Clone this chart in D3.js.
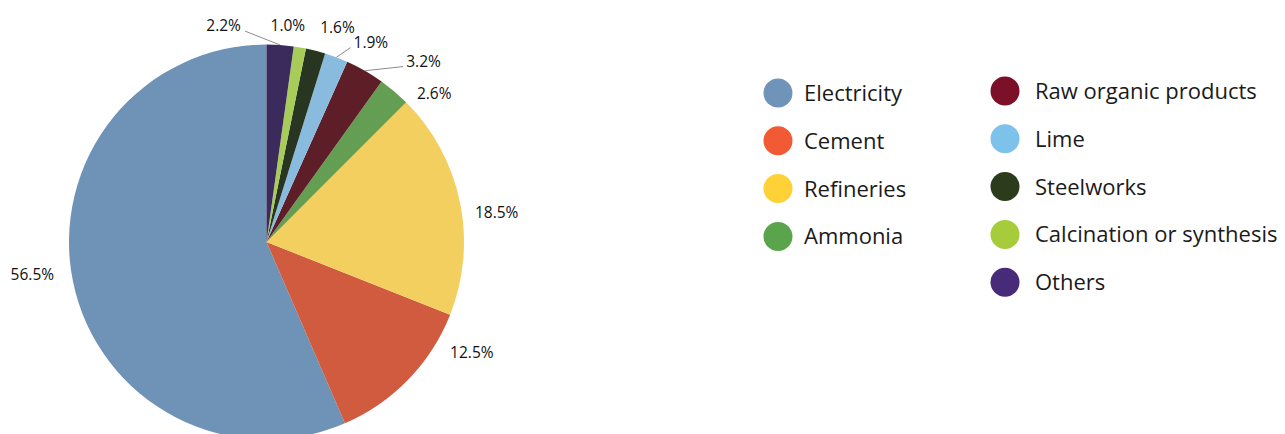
<!DOCTYPE html>
<html>
<head>
<meta charset="utf-8">
<script src="https://cdn.jsdelivr.net/npm/d3@7"></script>
<style>
  html, body { margin: 0; padding: 0; background: #fff; }
  svg { display: block; }
</style>
</head>
<body>
<svg id="chart" width="1285" height="434"></svg>
<script>
// Share of emissions by source (percent)
const categories = [
  "Electricity", "Cement", "Refineries", "Ammonia",
  "Raw organic products", "Lime", "Steelworks",
  "Calcination or synthesis", "Others"
];
const shares = [56.5, 12.5, 18.5, 2.6, 3.2, 1.9, 1.6, 1.0, 2.2];
const valueLabels = ["56.5%", "12.5%", "18.5%", "2.6%", "3.2%", "1.9%", "1.6%", "1.0%", "2.2%"];

// Slice fills and the brighter swatch tones used in the key
const sliceColors = ["#6f92b7", "#d05b3f", "#f3cf5f", "#649e52", "#5d1e28", "#88bbdd", "#283621", "#a8cc5a", "#3b2a5c"];
const keyColors   = ["#7094b9", "#f15a35", "#fed136", "#5aa54b", "#7b1028", "#7dc2ea", "#2b3b1c", "#a6cc3c", "#472a78"];

// Slices whose labels sit off to the side with a connector line
const connectorSeries = ["Others", "Lime", "Raw organic products"];

// Label placement tweaks relative to the outer label ring [dx, dy]
const labelNudge = [[-6, -15], [38, -52], [2, 18], [17, 29], [41, 21], [22, 18], [13, 11], [-18, 13], [-59, 16]];

const svg = d3.select("#chart");
const cx = 266.5, cy = 242, radius = 197.5, labelRadius = 233;

const color = d3.scaleOrdinal().domain(categories).range(sliceColors);
const keyColor = d3.scaleOrdinal().domain(categories).range(keyColors);

const rows = categories.map((c, i) => ({ name: c, value: shares[i], label: valueLabels[i], nudge: labelNudge[i] }));

// Slices run counter-clockwise from 12 o'clock
const pie = d3.pie().sort(null).value(d => d.value).startAngle(0).endAngle(-2 * Math.PI);
const arcs = pie(rows);

const arc = d3.arc().innerRadius(0).outerRadius(radius);
const ring = d3.arc().innerRadius(labelRadius).outerRadius(labelRadius);
const rim = d3.arc().innerRadius(radius).outerRadius(radius);

const g = svg.append("g").attr("transform", `translate(${cx},${cy})`);

g.selectAll("path.slice")
  .data(arcs)
  .join("path")
  .attr("class", "slice")
  .attr("d", arc)
  .attr("fill", d => color(d.data.name));

// Value labels
const labels = g.selectAll("text.value")
  .data(arcs)
  .join("text")
  .attr("class", "value")
  .attr("x", d => ring.centroid(d)[0] + d.data.nudge[0])
  .attr("y", d => ring.centroid(d)[1] + d.data.nudge[1])
  .attr("dy", "0.36em")
  .attr("text-anchor", "middle")
  .attr("font-family", "'Open Sans', sans-serif")
  .attr("font-size", 15.5)
  .attr("fill", "#111")
  .text(d => d.data.label);

// Connector lines from the rim to the nearest side of the label
labels.each(function(d) {
  if (!connectorSeries.includes(d.data.name)) return;
  const box = this.getBBox();
  const [ax, ay] = rim.centroid(d);
  const midY = box.y + box.height / 2;
  const toRight = ax > box.x + box.width;
  const ex = toRight ? box.x + box.width + 4 : box.x - 3;
  const ey = Math.min(ay, midY + 6);
  g.insert("line", "text")
    .attr("x1", ax).attr("y1", ay)
    .attr("x2", ex).attr("y2", ey)
    .attr("stroke", "#8c8c8c")
    .attr("stroke-width", 1);
});

// Key, two columns
const keyCols = [
  { items: categories.slice(0, 4), cx: 778, tx: 804, y0: 93, step: 47.8 },
  { items: categories.slice(4), cx: 1005, tx: 1035, y0: 91, step: 47.8 }
];
keyCols.forEach(col => {
  const kg = svg.append("g");
  const item = kg.selectAll("g")
    .data(col.items)
    .join("g")
    .attr("transform", (d, i) => `translate(0,${col.y0 + i * col.step})`);
  item.append("circle")
    .attr("cx", col.cx).attr("cy", 0).attr("r", 14.5)
    .attr("fill", d => keyColor(d));
  item.append("text")
    .attr("x", col.tx).attr("y", 8)
    .attr("font-family", "'Open Sans', sans-serif")
    .attr("font-size", 22)
    .attr("fill", "#1a1a1a")
    .text(d => d);
});
</script>
</body>
</html>
